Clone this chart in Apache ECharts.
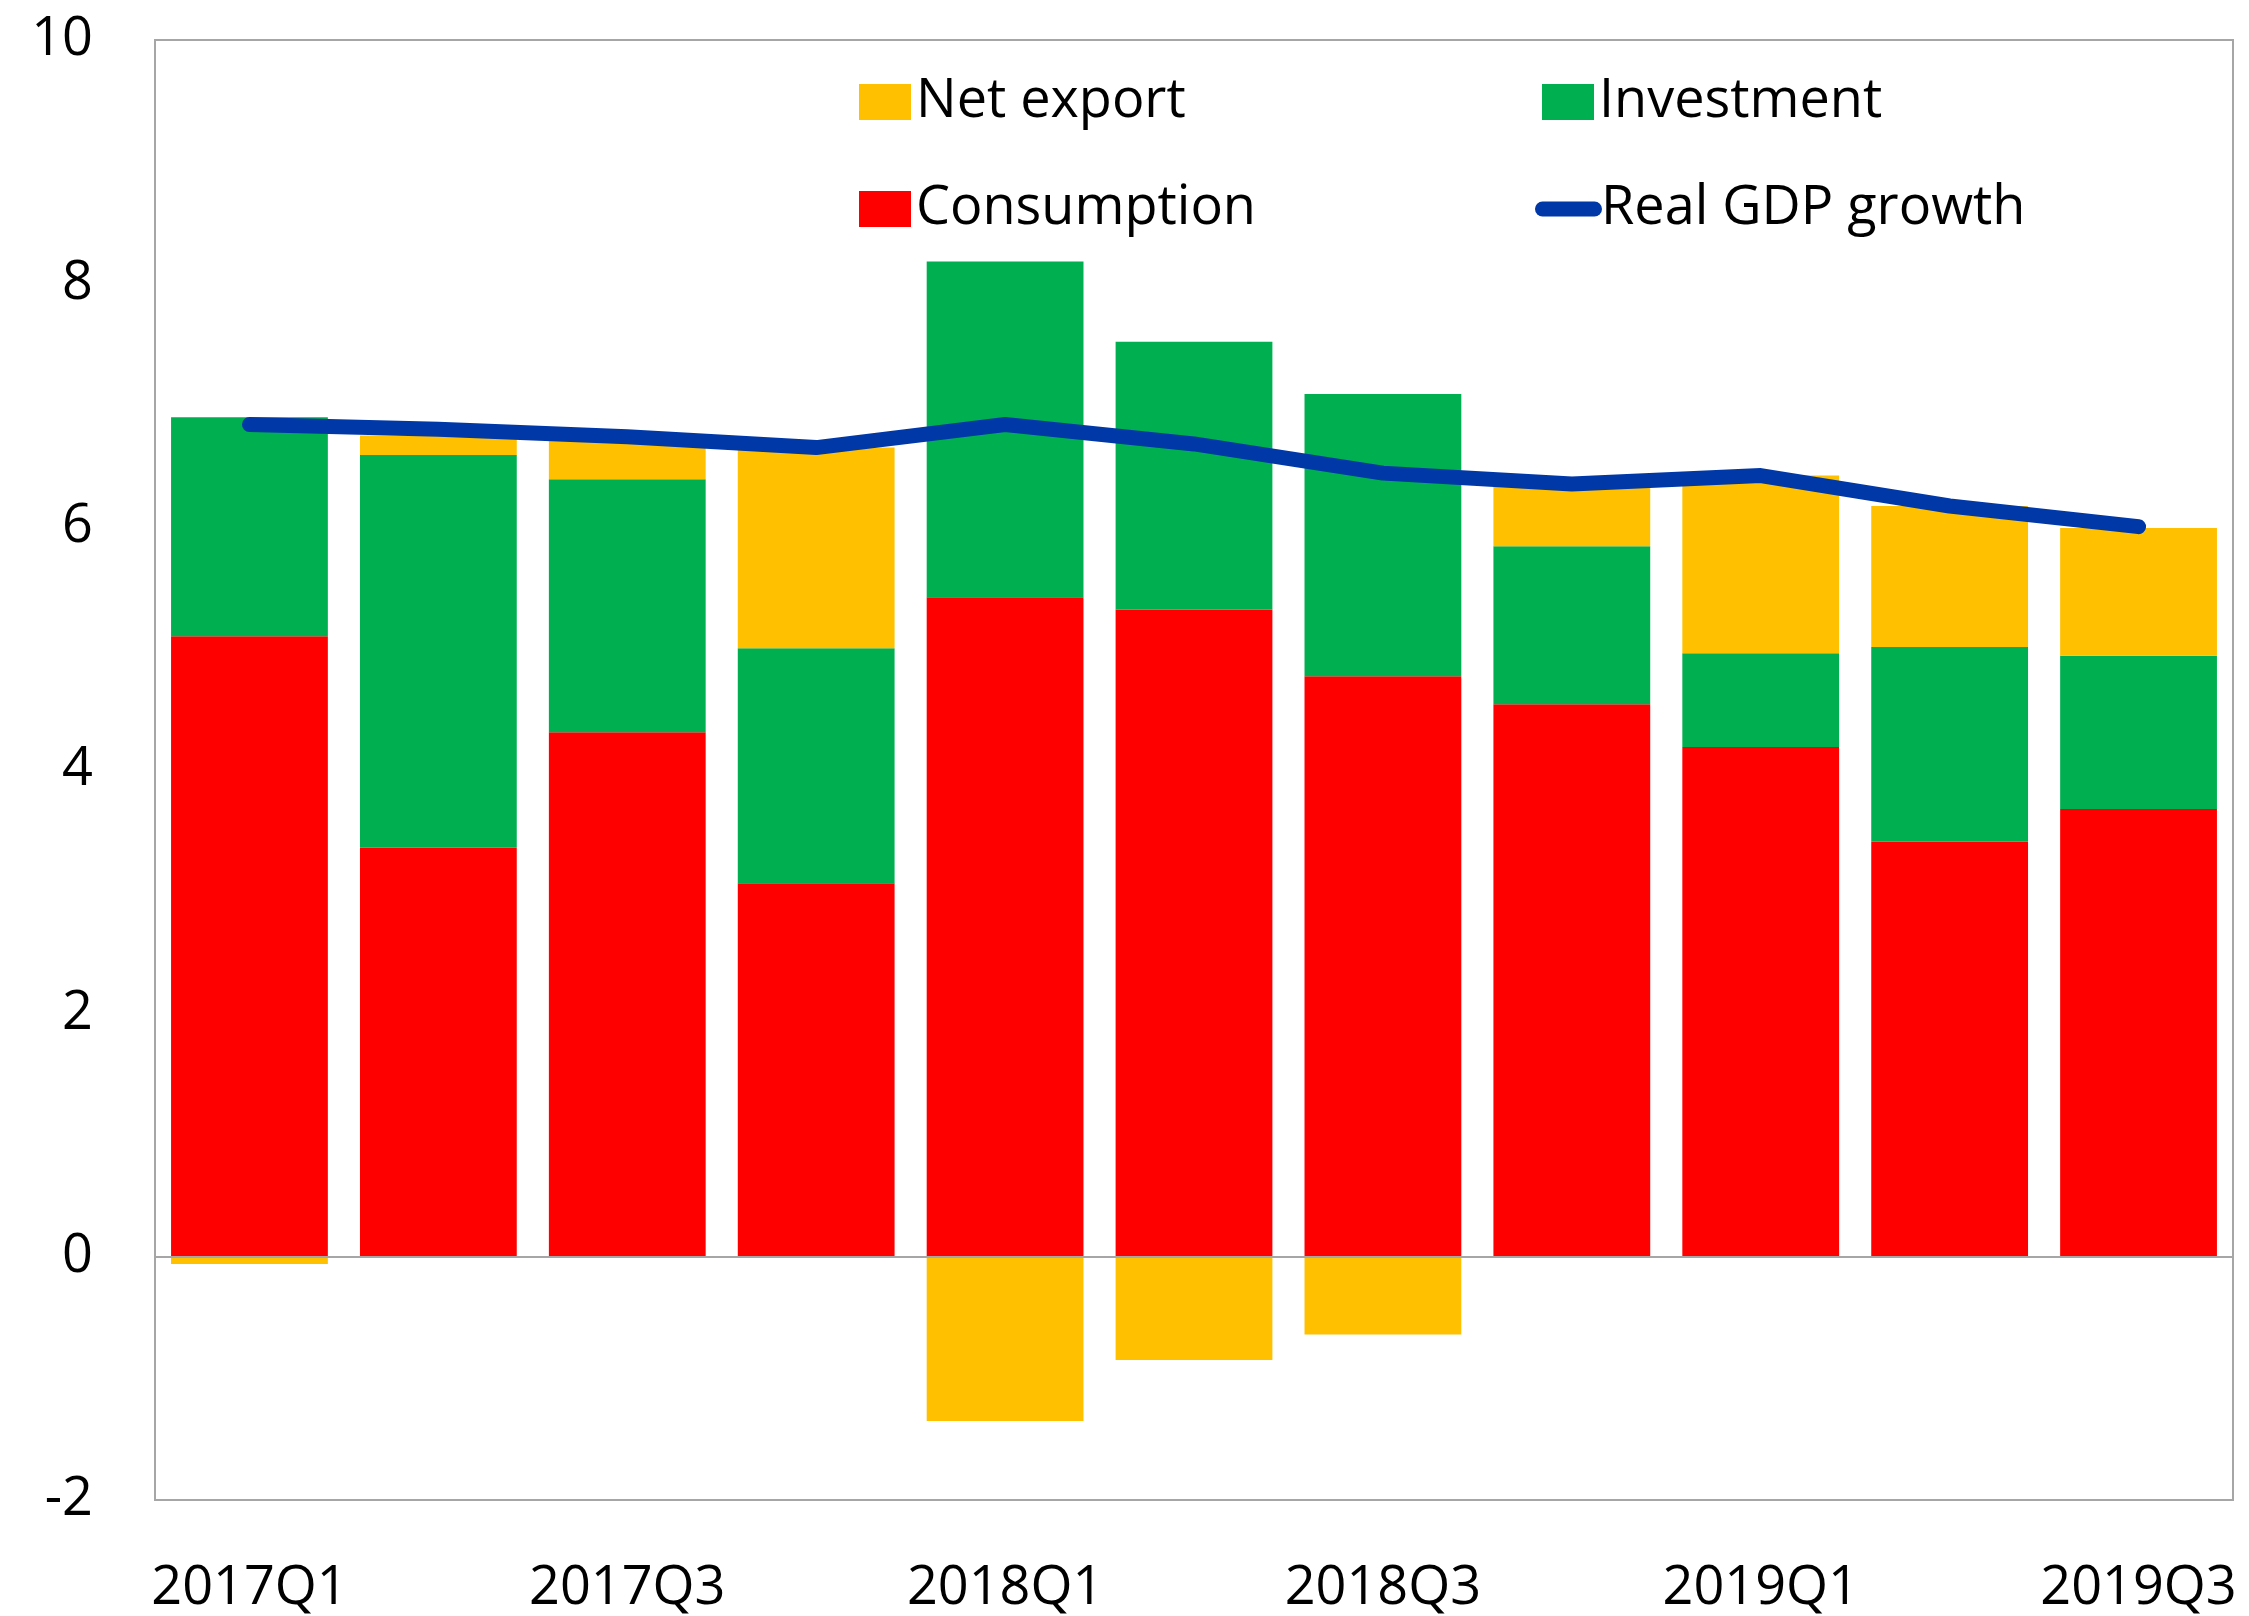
<!DOCTYPE html>
<html>
<head>
<meta charset="utf-8">
<script src="https://cdn.jsdelivr.net/npm/echarts@6/dist/echarts.min.js"></script>
<style>
  html, body { margin: 0; padding: 0; background: #fff; }
  #myChart { width: 2249px; height: 1616px; }
</style>
</head>
<body>
<div id="myChart"></div>
<script>
// quarters on the x axis
var quarters = ['2017Q1', '2017Q2', '2017Q3', '2017Q4', '2018Q1', '2018Q2',
  '2018Q3', '2018Q4', '2019Q1', '2019Q2', '2019Q3']
// contributions to growth, percentage points
var consumption = [5.10, 3.36, 4.31, 3.07, 5.42, 5.32, 4.77, 4.54, 4.19, 3.41, 3.68]
var investment = [1.80, 3.23, 2.08, 1.93, 2.76, 2.20, 2.32, 1.30, 0.77, 1.60, 1.26]
var netExport = [-0.06, 0.16, 0.33, 1.65, -1.35, -0.85, -0.64, 0.52, 1.46, 1.16, 1.05]
// real GDP growth, %
var gdpGrowth = [6.84, 6.80, 6.74, 6.65, 6.84, 6.68, 6.44, 6.35, 6.42, 6.17, 6.00]

var font = '"Open Sans", "Noto Sans", sans-serif'
var gray = '#a6a6a6'

function legendBox (name, left, top, opts) {
  return Object.assign({
    data: [name],
    left: left,
    top: top,
    padding: 0,
    icon: 'rect',
    itemWidth: 52,
    itemHeight: 36,
    selectedMode: false,
    textStyle: { fontFamily: font, fontSize: 54, color: '#000', padding: [4, 0, 0, 0] }
  }, opts || {})
}

var option = {
  animation: false,
  backgroundColor: '#fff',
  textStyle: { fontFamily: font },
  grid: {
    left: 155,
    right: 16,
    top: 40,
    bottom: 116,
    show: true,
    borderColor: gray,
    borderWidth: 2
  },
  legend: [
    legendBox('Net export', 859, 75),
    legendBox('Investment', 1542, 75),
    legendBox('Consumption', 859, 182),
    legendBox('Real GDP growth', 1535, 182, {
      icon: 'path://M7.5,0 L59.5,0 A7.5,7.5 0 0 1 59.5,15 L7.5,15 A7.5,7.5 0 0 1 7.5,0 Z',
      itemWidth: 67,
      itemHeight: 15,
      itemStyle: { color: '#0038a8' },
      textStyle: { fontFamily: font, fontSize: 54, color: '#000', padding: [4, 0, 0, -6] }
    })
  ],
  xAxis: {
    type: 'category',
    data: quarters,
    axisTick: { show: false },
    axisLine: { onZero: false, lineStyle: { color: gray, width: 2 } },
    axisLabel: {
      interval: 1,
      margin: 62,
      fontSize: 54,
      color: '#000',
      fontFamily: font
    }
  },
  yAxis: {
    type: 'value',
    min: -2,
    max: 10,
    interval: 2,
    splitLine: { show: false },
    axisTick: { show: false },
    axisLine: { show: true, lineStyle: { color: gray, width: 2 } },
    axisLabel: {
      margin: 62,
      fontSize: 54,
      color: '#000',
      fontFamily: font,
      padding: [12, 0, 0, 0]
    }
  },
  series: [
    {
      name: 'Consumption',
      type: 'bar',
      stack: 'gdp',
      barCategoryGap: '17%',
      itemStyle: { color: '#ff0000' },
      data: consumption
    },
    {
      name: 'Investment',
      type: 'bar',
      stack: 'gdp',
      itemStyle: { color: '#00b050' },
      data: investment
    },
    {
      name: 'Net export',
      type: 'bar',
      stack: 'gdp',
      itemStyle: { color: '#ffc000' },
      data: netExport
    },
    {
      name: 'Real GDP growth',
      type: 'line',
      symbol: 'none',
      z: 5,
      lineStyle: { color: '#0038a8', width: 15, cap: 'round', join: 'round' },
      itemStyle: { color: '#0038a8' },
      data: gdpGrowth,
      markLine: {
        silent: true,
        symbol: ['none', 'none'],
        label: { show: false },
        lineStyle: { color: gray, width: 2, type: 'solid' },
        data: [{ yAxis: 0 }]
      }
    }
  ]
}

var myChart = echarts.init(document.getElementById('myChart'), null, { renderer: 'canvas' })
myChart.setOption(option)
</script>
</body>
</html>
